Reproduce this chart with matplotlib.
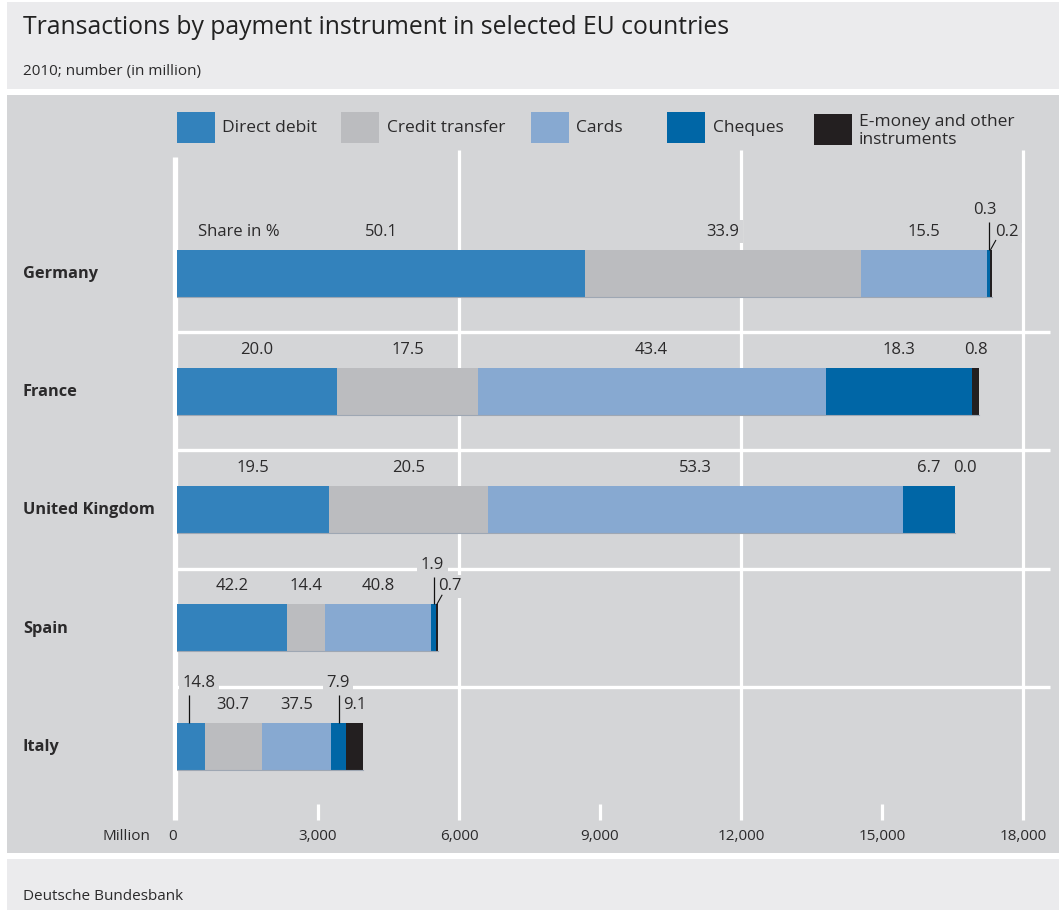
import matplotlib
matplotlib.use("Agg")
import matplotlib.pyplot as plt
from matplotlib.patches import Rectangle
import numpy as np

# ---------------- data ----------------
countries = ["Germany", "France", "United Kingdom", "Spain", "Italy"]
instruments = ["Direct debit", "Credit transfer", "Cards", "Cheques",
               "E-money and other\ninstruments"]
# total number of transactions, million
totals = [17330, 17060, 16550, 5550, 3960]
# shares in % (bar labels)
share_dd = [50.1, 20.0, 19.5, 42.2, 14.8]
share_ct = [33.9, 17.5, 20.5, 14.4, 30.7]
share_cards = [15.5, 43.4, 53.3, 40.8, 37.5]
share_cheques = [0.3, 18.3, 6.7, 1.9, 7.9]
share_emoney = [0.2, 0.8, 0.0, 0.7, 9.1]
xticks = [0, 3000, 6000, 9000, 12000, 15000, 18000]
xtick_labels = ["0", "3,000", "6,000", "9,000", "12,000", "15,000", "18,000"]

colors = ["#3382bc", "#bbbcbf", "#87a9d1", "#0066a6", "#231f20"]
BG = "#d4d5d7"
PANEL = "#ebebed"
TXT = "#2b2a2b"

W, H = 1059, 915
plt.rcParams['font.family'] = ['Open Sans', 'DejaVu Sans']
fig = plt.figure(figsize=(W / 100, H / 100), dpi=100)
fig.patch.set_facecolor("white")


def fx(x):
    return x / W


def fy(y):
    return 1 - y / H


def panel(x0, y0, x1, y1, c):
    fig.add_artist(Rectangle((fx(x0), fy(y1)), fx(x1) - fx(x0), fy(y0) - fy(y1),
                             transform=fig.transFigure, facecolor=c,
                             edgecolor="none", zorder=0))


panel(7, 2, 1059, 89, PANEL)
panel(7, 95, 1059, 853, BG)
panel(7, 859, 1059, 910, PANEL)

fig.text(fx(23), fy(28), "Transactions by payment instrument in selected EU countries",
         fontsize=17.8, color="#222222", va="center", ha="left")
fig.text(fx(23), fy(71), "2010; number (in million)", fontsize=11, color=TXT,
         va="center", ha="left")
fig.text(fx(23), fy(896), "Deutsche Bundesbank", fontsize=11, color=TXT,
         va="center", ha="left")

# ---------------- axes ----------------
AX_T, AX_B = 95, 853
ax = fig.add_axes([fx(177), fy(AX_B), fx(1023) - fx(177), fy(AX_T) - fy(AX_B)])
ax.patch.set_visible(False)
ax.axis("off")
ROW_PX = 118.25
Y_TOP = -(273 - AX_T) / ROW_PX
Y_BOT = Y_TOP + (AX_B - AX_T) / ROW_PX
ax.set_xlim(0, 18000)
ax.set_ylim(Y_BOT, Y_TOP)


def ypx(p):
    return Y_TOP + (p - AX_T) / ROW_PX


def dpx(d):
    return d / ROW_PX


PX_X = 18000 / (1023 - 177)

# gridlines
for xv in [6000, 12000, 18000]:
    ax.plot([xv, xv], [ypx(150), ypx(820)], color="white", lw=2.3,
            solid_capstyle="butt", zorder=1, clip_on=False)
ax.plot([-2.5 * PX_X, -2.5 * PX_X], [ypx(157), ypx(820)], color="white", lw=3.8,
        solid_capstyle="butt", zorder=1, clip_on=False)
for xv in [3000, 9000, 15000]:
    ax.plot([xv, xv], [ypx(804), ypx(820)], color="white", lw=2.3,
            solid_capstyle="butt", zorder=1, clip_on=False)
for i in range(len(countries) - 1):
    ax.plot([0, 18574], [i + 0.5, i + 0.5], color="white", lw=2.4,
            solid_capstyle="butt", zorder=1, clip_on=False)

# bars
shares = np.array([share_dd, share_ct, share_cards, share_cheques, share_emoney])
vals = shares * np.array(totals) / 100.0
ypos = np.arange(len(countries))
BAR_H = 47 / ROW_PX
left = np.zeros(len(countries))
for k in range(len(instruments)):
    ax.barh(ypos, vals[k], left=left, height=BAR_H, color=colors[k],
            edgecolor="none", zorder=3, label=instruments[k])
    left = left + vals[k]
for i in range(len(countries)):
    ax.plot([0, left[i]], [i + BAR_H / 2, i + BAR_H / 2], color="#9ea7b3",
            lw=0.8, zorder=4)

# labels
LBL_FS = 12
NORMAL = -41.5
UP = -63
special = {
    (0, 3): ("up", -4, "v"),
    (0, 4): ("normal", 16, "s"),
    (2, 4): ("normal", 10, None),
    (3, 3): ("up", -1, "v"),
    (3, 4): ("normal", 13, "s"),
    (4, 0): ("up", 8, "v"),
    (4, 3): ("up", -1, "v"),
}
bbox = dict(facecolor=BG, edgecolor="none", pad=2.5)
for i in range(len(countries)):
    cum = 0
    for k in range(len(instruments)):
        v = vals[k][i]
        c = cum + v / 2
        cum += v
        lvl, dx, leader = special.get((i, k), ("normal", 0, None))
        yoff = UP if lvl == "up" else NORMAL
        ax.text(c + dx * PX_X, i + dpx(yoff), f"{shares[k][i]:.1f}", ha="center",
                va="center", fontsize=LBL_FS, color=TXT, zorder=5, bbox=bbox)
        lx = c - (2 * PX_X if (i, k) == (4, 0) else 0)
        if leader == "v":
            ax.plot([lx, lx], [i - BAR_H / 2, i + dpx(-51)], color="#111111", lw=0.9,
                    zorder=6, solid_capstyle="butt")
        elif leader == "s":
            ax.plot([c, c + 5 * PX_X], [i - BAR_H / 2, i - BAR_H / 2 - dpx(9)],
                    color="#111111", lw=0.8, zorder=6)

ax.text((198 - 177) * PX_X, dpx(NORMAL), "Share in %", ha="left", va="center",
        fontsize=LBL_FS, color=TXT, zorder=5)

# row labels
for i, name in enumerate(countries):
    fig.text(fx(23), fy(274 + i * ROW_PX), name, fontsize=11.8, fontweight="bold",
             color=TXT, ha="left", va="center")

# x tick labels
for xv, lab in zip(xticks, xtick_labels):
    ax.text(xv - (4 * PX_X if xv == 0 else 0), ypx(836), lab, ha="center", va="center",
            fontsize=11, color=TXT, family=["Liberation Sans Narrow", "Open Sans"],
            clip_on=False)
fig.text(fx(150), fy(836), "Million", ha="right", va="center", fontsize=11,
         color=TXT, family=["Liberation Sans Narrow", "Open Sans"])

# legend (manual)
leg = [(177, 112, 222), (341, 112, 387), (531, 112, 576), (667, 112, 713),
       (814, 114, 859)]
for k, (x0, y0, tx) in enumerate(leg):
    fig.add_artist(Rectangle((fx(x0), fy(y0 + 31)), fx(38), 31 / H,
                             transform=fig.transFigure, facecolor=colors[k],
                             edgecolor="none", zorder=2))
    fig.text(fx(tx), fy(y0 + 15.5 if k < 4 else 131), instruments[k],
             fontsize=12.5, color=TXT, ha="left", va="center",
             linespacing=1.15)

fig.savefig("out.png", dpi=100, facecolor="white")
